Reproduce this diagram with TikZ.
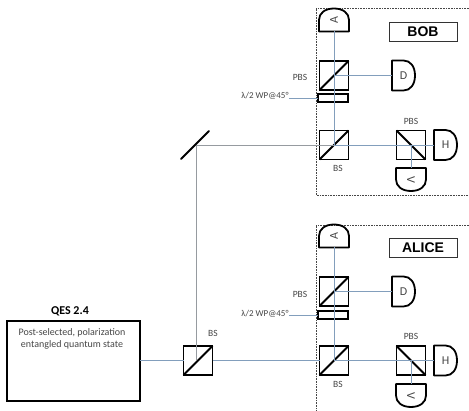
\documentclass[tikz,border=0pt]{standalone}
\usepackage{fontspec}
\setmainfont{Carlito}
\newfontfamily\arialfont{Liberation Sans}
\usetikzlibrary{calc}
\definecolor{beamblue}{RGB}{130,158,188}
\definecolor{beamgray}{RGB}{150,155,160}
\definecolor{labelgray}{RGB}{70,70,70}
\tikzset{
  optic/.style={draw=black,line width=1.8pt},
  cube/.style={optic,minimum size=29pt,inner sep=0pt,outer sep=0pt},
  plate/.style={optic,line width=1.5pt,minimum width=30pt,minimum height=8pt,inner sep=0pt,outer sep=0pt},
  detector/.style={minimum width=23pt,minimum height=30pt,inner sep=0pt,outer sep=0pt,font=\fontsize{12}{12}\selectfont,text=labelgray},
  beam/.style={draw=beamblue,line width=.9pt},
  station/.style={draw=labelgray,densely dotted,line width=.6pt},
  small/.style={font=\fontsize{9.5}{11}\selectfont,text=labelgray,inner sep=0pt},
  namebox/.style={draw=black!80,line width=.8pt,minimum width=68pt,minimum height=19pt,inner sep=0pt,font=\arialfont\bfseries\fontsize{14}{14}\selectfont}
}
\begin{document}
\begin{tikzpicture}[x=1pt,y=-1pt]
  \useasboundingbox (0,0) rectangle (469,411);
  % stations
  \draw[station] (469,8) -- (316,8) -- (316,195) -- (469,195);
  \draw[station] (469,225) -- (316,225) -- (316,411);
  \node[namebox] (bobname) at (423,31.5) {BOB};
  \node[namebox] (alicename) at (423,247.5) {ALICE};

  % source
  \node[optic,minimum width=133pt,minimum height=80pt,inner sep=0pt,outer sep=0pt] (source) at (73.5,361) {};
  \node[font=\bfseries\fontsize{12}{14}\selectfont,inner sep=0pt] (sourcename) at (70,311.5) {QES 2.4};
  \node[small,align=center,font=\fontsize{10}{12.5}\selectfont] (sourcetext) at (72,339) {Post-selected, polarization\\entangled quantum state};
  \node[cube] (bs) at (198,360.5) {};
  \node[small] (bslabel) at (213,333.5) {BS};
  \coordinate (mirror) at (196.5,145);
  \draw[optic,line cap=round] (181,159) -- (209,131);

  % bob
  \node[cube] (bsb) at (334,145) {};
  \node[cube] (pbsb) at (334,75.5) {};
  \node[cube] (pbshb) at (411,145) {};
  \node[plate] (wpb) at (333,98) {};
  \node[detector,rotate=90] (detab) at (334,20) {A};
  \node[detector] (detdb) at (403.5,75.5) {D};
  \node[detector] (dethb) at (445.5,145) {H};
  \node[detector,rotate=-90] (detvb) at (411,179.5) {V};
  \node[small] (pbsblabel) at (300,77) {PBS};
  \node[small] (pbshblabel) at (411,121) {PBS};
  \node[small] (bsblabel) at (338,168) {BS};
  \node[small,font=\fontsize{9}{10}\selectfont] (wpblabel) at (265,96) {λ/2 WP@45°};

  % alice
  \node[cube] (bsa) at (334,360.5) {};
  \node[cube] (pbsa) at (334,291.5) {};
  \node[cube] (pbsha) at (411,360.5) {};
  \node[plate] (wpa) at (333,315) {};
  \node[detector,rotate=90] (detaa) at (334,236) {A};
  \node[detector] (detda) at (403.5,291.5) {D};
  \node[detector] (detha) at (445.5,360.5) {H};
  \node[detector,rotate=-90] (detva) at (411,395.5) {V};
  \node[small] (pbsalabel) at (300,294) {PBS};
  \node[small] (pbshalabel) at (411,336) {PBS};
  \node[small] (bsalabel) at (338,384) {BS};
  \node[small,font=\fontsize{9}{10}\selectfont] (wpalabel) at (265,314) {λ/2 WP@45°};

  % diagonals
  \foreach \cubename in {bs,bsb,pbsb,bsa,pbsa}
    \draw[optic] (\cubename.south west) -- (\cubename.north east);
  \foreach \cubename in {pbshb,pbsha}
    \draw[optic] (\cubename.north west) -- (\cubename.south east);

  % detector outlines
  \foreach \detname in {detab,detdb,dethb,detvb,detaa,detda,detha,detva}
    \draw[optic,line join=round] (\detname.south west) -- (\detname.north west) -- (\detname.north)
      .. controls ($(\detname.north)!.6!(\detname.north east)$) and ($(\detname.east)!.6!(\detname.north east)$) .. (\detname.east)
      .. controls ($(\detname.east)!.6!(\detname.south east)$) and ($(\detname.south)!.6!(\detname.south east)$) .. (\detname.south) -- cycle;

  % beams
  \draw[beam] (source.east |- bs) -- (bs.west);
  \draw[beam] (bs.east) -- (bsa.west);
  \draw[beam,draw=beamgray] (bs.center -| mirror) -- (mirror) -- (bsb.center);
  \foreach \who in {a,b}{
    \draw[beam] (bs\who.center) -- (deth\who.west);
    \draw[beam] (bs\who.center) -- (deta\who.west);
    \draw[beam] (pbs\who.center) -- (detd\who.west);
    \draw[beam] (pbsh\who.center) -- (detv\who.west);
    \draw[beam,line width=.6pt] (wp\who label.east |- wp\who) -- (wp\who.west);
  }
\end{tikzpicture}
\end{document}
